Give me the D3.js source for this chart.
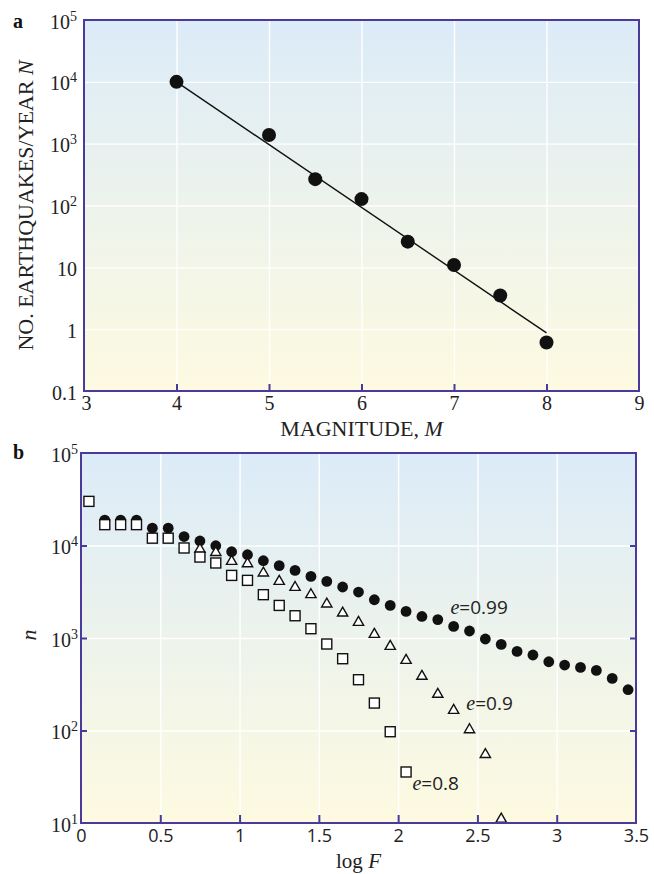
<!DOCTYPE html>
<html>
<head>
<meta charset="utf-8">
<script src="https://cdn.jsdelivr.net/npm/d3@7"></script>
<style>
  html, body { margin: 0; padding: 0; background: #fff; }
  svg { display: block; }
  .serif { font-family: "Liberation Serif", "DejaVu Serif", serif; }
  .sans { font-family: "Open Sans", "DejaVu Sans", sans-serif; }
</style>
</head>
<body>
<svg id="chart" width="654" height="874"></svg>
<script>
// ---------- データ ----------
// a: 年間地震数 N vs マグニチュード M
const aMag = [4, 5, 5.5, 6, 6.5, 7, 7.5, 8];
const aRate = [10000, 1380, 267, 127, 26, 10.9, 3.5, 0.61];
const aFitMag = [4, 8];
const aFitRate = [10000, 0.87];
const aXTicks = [3, 4, 5, 6, 7, 8, 9];
const aYTicks = [0.1, 1, 10, 100, 1000, 10000, 100000];

// b: n vs log F(e = 0.99 / 0.9 / 0.8)
const bLogF99 = [0.15, 0.25, 0.35, 0.45, 0.55, 0.65, 0.75, 0.85, 0.95, 1.05, 1.15, 1.25, 1.35, 1.45, 1.55, 1.65, 1.75,
  1.85, 1.95, 2.05, 2.15, 2.25, 2.35, 2.45, 2.55, 2.65, 2.75, 2.85, 2.95, 3.05, 3.15, 3.25, 3.35, 3.45];
const bN99 = [18800, 18800, 18800, 15400, 15400, 12500, 11200, 9950, 8570, 7950, 6850, 6050, 5380, 4630, 4090, 3560, 3140,
  2590, 2250, 1940, 1710, 1580, 1335, 1190, 975, 853, 716, 655, 554, 510, 481, 446, 366, 276];
const bLogF90 = [0.75, 0.85, 0.95, 1.05, 1.15, 1.25, 1.35, 1.45, 1.55, 1.65, 1.75, 1.85, 1.95, 2.05, 2.15, 2.25, 2.35,
  2.45, 2.55, 2.65];
const bN90 = [9100, 8400, 6730, 6350, 5040, 4090, 3520, 2940, 2330, 1860, 1475, 1094, 811, 573, 385, 246, 165,
  102, 55, 11];
const bLogF80 = [0.05, 0.15, 0.25, 0.35, 0.45, 0.55, 0.65, 0.75, 0.85, 0.95, 1.05, 1.15, 1.25, 1.35, 1.45, 1.55, 1.65,
  1.75, 1.85, 1.95, 2.05];
const bN80 = [30000, 16800, 16800, 16800, 12000, 12000, 9400, 7500, 6470, 4750, 4200, 2940, 2250, 1740, 1260, 861, 597,
  354, 198, 97, 35.6];
const bXTicks = [0, 0.5, 1, 1.5, 2, 2.5, 3, 3.5];
const bYTicks = [10, 100, 1000, 10000, 100000];
const bCurveLabels = ["0.99", "0.9", "0.8"];

// ---------- 見た目 ----------
const FRAME = "#4a3a9a";
const svg = d3.select("#chart");

const defs = svg.append("defs");
const grad = defs.append("linearGradient").attr("id", "bg").attr("x1", 0).attr("y1", 0).attr("x2", 0).attr("y2", 1);
grad.append("stop").attr("offset", "0%").attr("stop-color", "#dbebf8");
grad.append("stop").attr("offset", "50%").attr("stop-color", "#edf3ec");
grad.append("stop").attr("offset", "100%").attr("stop-color", "#fdfae0");

// 枠・背景・グリッドの共通部分
function panelFrame(box, x, y, xGrid, yGrid) {
  const g = svg.append("g");
  g.append("rect")
    .attr("x", box.left).attr("y", box.top)
    .attr("width", box.right - box.left).attr("height", box.bottom - box.top)
    .attr("fill", "url(#bg)");
  g.append("g")
    .attr("transform", `translate(0,${box.bottom})`)
    .call(d3.axisBottom(x).tickValues(xGrid).tickSize(-(box.bottom - box.top)).tickFormat(""))
    .call((a) => a.select(".domain").remove())
    .call((a) => a.selectAll("line").attr("stroke", "#fff").attr("stroke-width", 1.4));
  g.append("g")
    .attr("transform", `translate(${box.left},0)`)
    .call(d3.axisLeft(y).tickValues(yGrid).tickSize(-(box.right - box.left)).tickFormat(""))
    .call((a) => a.select(".domain").remove())
    .call((a) => a.selectAll("line").attr("stroke", "#fff").attr("stroke-width", 1.4));
  return g;
}

function frameBorder(box) {
  svg.append("rect")
    .attr("x", box.left).attr("y", box.top)
    .attr("width", box.right - box.left).attr("height", box.bottom - box.top)
    .attr("fill", "none").attr("stroke", FRAME).attr("stroke-width", 2);
}

// 10^k 形式の y 目盛ラベル
function yLabels(box, y, ticks, plain, dx) {
  const g = svg.append("g")
    .attr("transform", `translate(${box.left},0)`)
    .call(d3.axisLeft(y).tickValues(ticks).tickSize(0).tickFormat(""));
  g.select(".domain").remove();
  g.selectAll(".tick").each(function (d) {
    const t = d3.select(this).append("text")
      .attr("class", "serif")
      .attr("x", dx).attr("y", 8)
      .attr("text-anchor", "end")
      .attr("fill", "#222")
      .style("font-size", "20px");
    const k = Math.round(Math.log10(d));
    if (plain && plain.has(d)) {
      t.text(String(d));
    } else {
      t.append("tspan").text("10");
      t.append("tspan").attr("dy", -8).style("font-size", "14px").text(k);
    }
  });
}

// ---------- パネル a ----------
const boxA = { left: 84, top: 20, right: 639, bottom: 391 };
const xA = d3.scaleLinear().domain([3, 9]).range([boxA.left, boxA.right]);
const yA = d3.scaleLog().domain([0.1, 1e5]).range([boxA.bottom, boxA.top]);

panelFrame(boxA, xA, yA, [4, 5, 6, 7, 8], [1, 10, 100, 1000, 10000]);

svg.append("path")
  .datum(aFitMag.map((m, i) => [m, aFitRate[i]]))
  .attr("fill", "none").attr("stroke", "#111").attr("stroke-width", 1.4)
  .attr("d", d3.line().x((d) => xA(d[0])).y((d) => yA(d[1])));

svg.append("g").selectAll("circle")
  .data(aMag.map((m, i) => [m, aRate[i]]))
  .join("circle")
  .attr("cx", (d) => xA(d[0])).attr("cy", (d) => yA(d[1]))
  .attr("r", 7).attr("fill", "#111");

frameBorder(boxA);

const axA = svg.append("g")
  .attr("transform", `translate(0,${boxA.bottom})`)
  .call(d3.axisBottom(xA).tickValues(aXTicks).tickSizeInner(-7).tickSizeOuter(0).tickPadding(5)
    .tickFormat(d3.format("d")));
axA.select(".domain").remove();
axA.selectAll("line").attr("stroke", FRAME).attr("stroke-width", 2)
  .attr("display", (d) => (d === 3 || d === 9 ? "none" : null));
axA.selectAll("text").attr("class", "serif").attr("fill", "#222").style("font-size", "20px");
axA.selectAll(".tick").filter((d) => d === 3).select("text").attr("dx", 2);

yLabels(boxA, yA, aYTicks, new Set([0.1, 1, 10]), -7);

svg.append("text").attr("class", "serif")
  .attr("x", (boxA.left + boxA.right) / 2).attr("y", 436)
  .attr("text-anchor", "middle").attr("fill", "#222").style("font-size", "22px")
  .call((t) => {
    t.append("tspan").text("MAGNITUDE, ");
    t.append("tspan").style("font-style", "italic").text("M");
  });

svg.append("text").attr("class", "serif")
  .attr("transform", `translate(33,${(boxA.top + boxA.bottom) / 2}) rotate(-90)`)
  .attr("text-anchor", "middle").attr("fill", "#222").style("font-size", "22px")
  .call((t) => {
    t.append("tspan").text("NO. EARTHQUAKES/YEAR ");
    t.append("tspan").style("font-style", "italic").text("N");
  });

svg.append("text").attr("class", "serif")
  .attr("x", 13).attr("y", 28).attr("font-weight", "bold").attr("fill", "#111").style("font-size", "20px")
  .text("a");

// ---------- パネル b ----------
const boxB = { left: 81, top: 453, right: 636, bottom: 823 };
const xB = d3.scaleLinear().domain([0, 3.5]).range([boxB.left, boxB.right]);
const yB = d3.scaleLog().domain([10, 1e5]).range([boxB.bottom, boxB.top]);

panelFrame(boxB, xB, yB, [0.5, 1, 1.5, 2, 2.5, 3], [100, 1000, 10000]);

// 描画順: 黒丸 → 三角 → 四角
svg.append("g").selectAll("circle")
  .data(bLogF99.map((f, i) => [f, bN99[i]]))
  .join("circle")
  .attr("cx", (d) => xB(d[0])).attr("cy", (d) => yB(d[1]))
  .attr("r", 5.4).attr("fill", "#111");

const tri = d3.symbol().type(d3.symbolTriangle).size(46);
svg.append("g").selectAll("path")
  .data(bLogF90.map((f, i) => [f, bN90[i]]))
  .join("path")
  .attr("transform", (d) => `translate(${xB(d[0])},${yB(d[1])})`)
  .attr("d", tri)
  .attr("fill", "#fff").attr("stroke", "#111").attr("stroke-width", 1.4);

svg.append("g").selectAll("rect")
  .data(bLogF80.map((f, i) => [f, bN80[i]]))
  .join("rect")
  .attr("x", (d) => xB(d[0]) - 5).attr("y", (d) => yB(d[1]) - 5)
  .attr("width", 10).attr("height", 10)
  .attr("fill", "#fff").attr("stroke", "#111").attr("stroke-width", 1.4);

// 曲線ラベル
const labelPos = [[2.33, 614], [2.43, 710], [2.09, 790]];
bCurveLabels.forEach((v, i) => {
  const t = svg.append("text")
    .attr("x", xB(labelPos[i][0])).attr("y", labelPos[i][1])
    .attr("fill", "#222").style("font-size", "20px");
  t.append("tspan").attr("class", "serif").style("font-style", "italic").text("e");
  t.append("tspan").attr("class", "sans").style("font-size", "19px").text("=" + v);
});

frameBorder(boxB);

const axB = svg.append("g")
  .attr("transform", `translate(0,${boxB.bottom})`)
  .call(d3.axisBottom(xB).tickValues(bXTicks).tickSizeInner(-8).tickSizeOuter(0).tickPadding(6)
    .tickFormat((d) => String(d)));
axB.select(".domain").remove();
axB.selectAll("line").attr("stroke", FRAME).attr("stroke-width", 2)
  .attr("display", (d) => (d === 0 || d === 3.5 ? "none" : null));
axB.selectAll("text").attr("class", "sans").attr("fill", "#222").style("font-size", "18px");

// 左右の内向き目盛
const innerTicks = [100, 1000, 10000];
const lyB = svg.append("g").attr("transform", `translate(${boxB.left},0)`)
  .call(d3.axisRight(yB).tickValues(innerTicks).tickSize(6).tickFormat(""));
lyB.select(".domain").remove();
lyB.selectAll("line").attr("stroke", FRAME).attr("stroke-width", 2);
const ryB = svg.append("g").attr("transform", `translate(${boxB.right},0)`)
  .call(d3.axisLeft(yB).tickValues(innerTicks).tickSize(6).tickFormat(""));
ryB.select(".domain").remove();
ryB.selectAll("line").attr("stroke", FRAME).attr("stroke-width", 2);

yLabels(boxB, yB, bYTicks, null, -3);

svg.append("text").attr("class", "serif")
  .attr("x", (boxB.left + boxB.right) / 2).attr("y", 868)
  .attr("text-anchor", "middle").attr("fill", "#222").style("font-size", "21px")
  .call((t) => {
    t.append("tspan").text("log ");
    t.append("tspan").style("font-style", "italic").text("F");
  });

svg.append("text").attr("class", "serif")
  .attr("transform", `translate(36,${yB(1000) - 3}) rotate(-90)`)
  .attr("text-anchor", "middle").attr("fill", "#222").style("font-size", "22px").style("font-style", "italic")
  .text("n");

svg.append("text").attr("class", "serif")
  .attr("x", 13).attr("y", 459).attr("font-weight", "bold").attr("fill", "#111").style("font-size", "20px")
  .text("b");
</script>
</body>
</html>
